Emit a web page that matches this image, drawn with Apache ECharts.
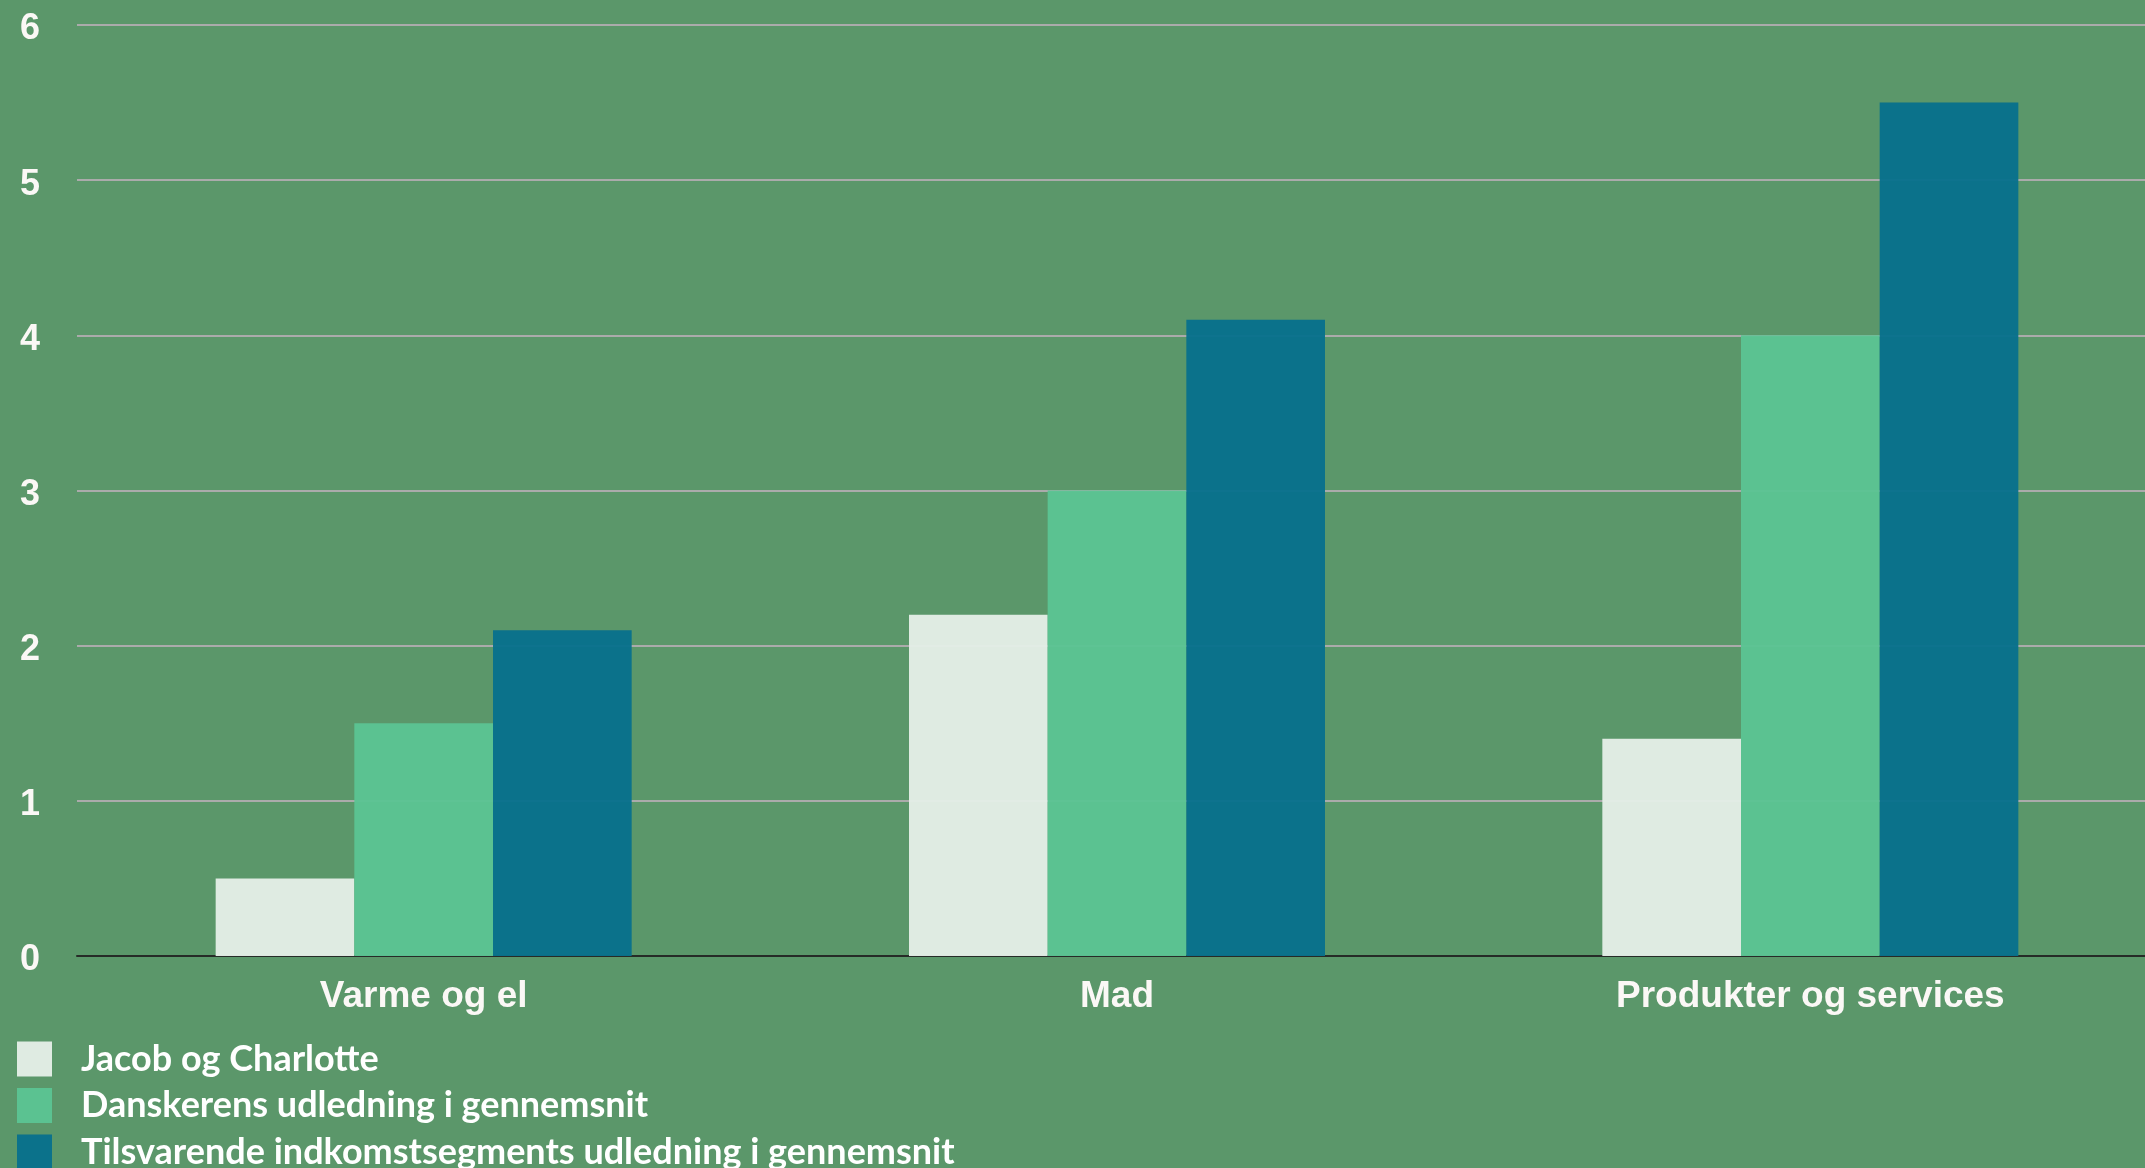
<!DOCTYPE html>
<html>
<head>
<meta charset="utf-8">
<title>Udledning</title>
<script src="https://cdn.jsdelivr.net/npm/echarts@6/dist/echarts.min.js"></script>
<style>
  html, body { margin: 0; padding: 0; background: #5B976A; }
  #chart { width: 2145px; height: 1168px; }
</style>
</head>
<body>
<div id="chart"></div>
<script>
// Categories and series values (tons CO2 per person)
const categories = ['Varme og el', 'Mad', 'Produkter og services'];
const seriesNames = [
  'Jacob og Charlotte',
  'Danskerens udledning i gennemsnit',
  'Tilsvarende indkomstsegments udledning i gennemsnit'
];
const jacobCharlotte = [0.5, 2.2, 1.4];
const danskerGennemsnit = [1.5, 3.0, 4.0];
const indkomstSegment = [2.1, 4.1, 5.5];
const yTicks = [0, 1, 2, 3, 4, 5, 6];

const colors = ['#E3EDE6', '#5BC393', '#08718C'];
const values = [jacobCharlotte, danskerGennemsnit, indkomstSegment];

const chart = echarts.init(document.getElementById('chart'));

chart.setOption({
  backgroundColor: '#5B976A',
  animation: false,
  grid: {
    left: 77,
    right: -12,
    top: 25,
    bottom: 212,
    containLabel: false,
    outerBoundsMode: 'none'
  },
  legend: {
    orient: 'vertical',
    left: 17,
    top: 1041,
    height: 300,
    icon: 'rect',
    itemWidth: 35,
    itemHeight: 35,
    itemGap: 10.5,
    padding: 0,
    data: seriesNames,
    textStyle: {
      color: '#FFFFFF',
      fontFamily: 'Lato',
      fontWeight: 'bold',
      fontSize: 36,
      padding: [0, 0, 0, 24]
    }
  },
  xAxis: {
    type: 'category',
    data: categories,
    axisTick: { show: false },
    axisLine: { show: true, lineStyle: { color: '#262B27', width: 2 } },
    axisLabel: {
      color: '#FBF8F6',
      fontFamily: 'Liberation Sans',
      fontWeight: 'bold',
      fontSize: 37,
      lineHeight: 37,
      margin: 22
    }
  },
  yAxis: {
    type: 'value',
    min: yTicks[0],
    max: yTicks[yTicks.length - 1],
    interval: 1,
    axisLine: { show: false },
    axisTick: { show: false },
    splitLine: { lineStyle: { color: '#ABABAB', width: 2 } },
    axisLabel: {
      margin: 37,
      formatter: '{v|{value}}',
      rich: {
        v: {
          color: '#FBF8F6',
          fontFamily: 'Liberation Sans',
          fontWeight: 'bold',
          fontSize: 36,
          padding: [9, 0, 0, 0]
        }
      }
    }
  },
  series: seriesNames.map((name, i) => ({
    name: name,
    type: 'bar',
    data: values[i],
    barGap: '0%',
    barCategoryGap: '40%',
    itemStyle: { color: colors[i], opacity: 0.97 },
    emphasis: { disabled: true }
  }))
});
</script>
</body>
</html>
